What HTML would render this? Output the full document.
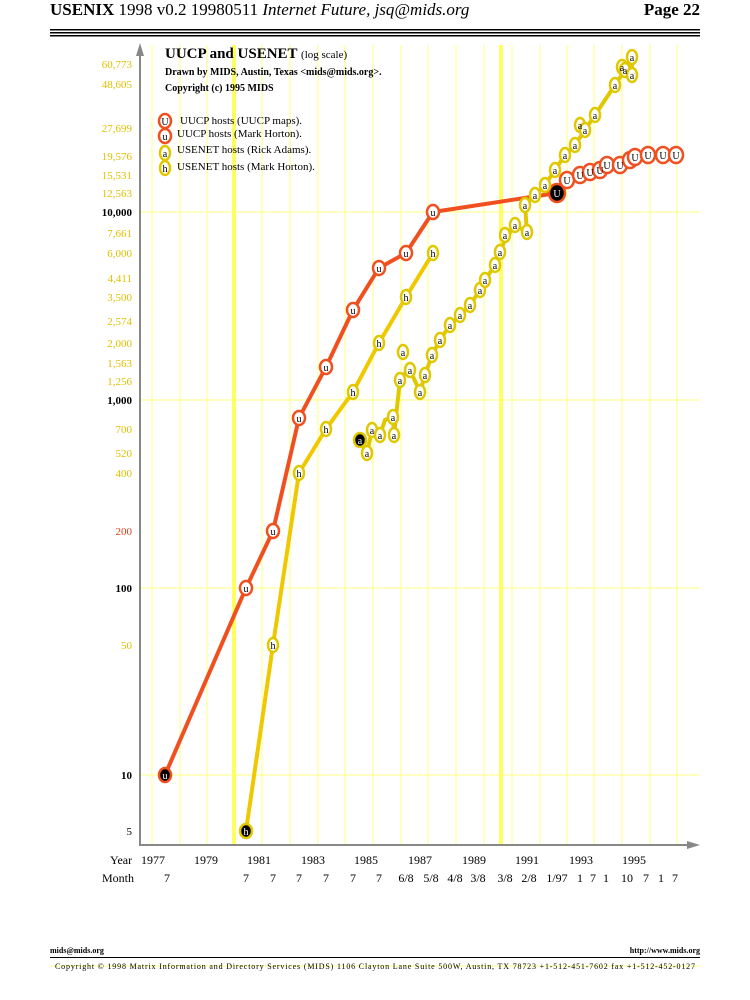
<!DOCTYPE html>
<html><head><meta charset="utf-8"><style>
body{margin:0;background:#fff;width:750px;height:1000px;overflow:hidden}
svg{display:block}
.y{fill:#e0c000;font:11px "Liberation Serif",serif;text-anchor:end}
</style></head><body>
<svg width="750" height="1000" viewBox="0 0 750 1000" xmlns="http://www.w3.org/2000/svg">
<text x="50" y="15" font-family="Liberation Serif" font-size="17"><tspan font-weight="bold">USENIX</tspan> 1998 v0.2 19980511 <tspan font-style="italic">Internet Future, jsq@mids.org</tspan></text>
<text x="700" y="15" font-family="Liberation Serif" font-size="17" font-weight="bold" text-anchor="end">Page 22</text>
<rect x="50" y="29" width="650" height="1.5" fill="#000"/><rect x="50" y="32" width="650" height="1.5" fill="#000"/><rect x="50" y="35" width="650" height="1.5" fill="#000"/>
<g stroke="#ffff80" stroke-width="1">
<line x1="152" y1="45" x2="152" y2="845"/><line x1="180" y1="45" x2="180" y2="845"/><line x1="207" y1="45" x2="207" y2="845"/><line x1="262" y1="45" x2="262" y2="845"/><line x1="290" y1="45" x2="290" y2="845"/><line x1="318" y1="45" x2="318" y2="845"/><line x1="345" y1="45" x2="345" y2="845"/><line x1="373" y1="45" x2="373" y2="845"/><line x1="401" y1="45" x2="401" y2="845"/><line x1="428" y1="45" x2="428" y2="845"/><line x1="456" y1="45" x2="456" y2="845"/><line x1="484" y1="45" x2="484" y2="845"/><line x1="512" y1="45" x2="512" y2="845"/><line x1="540" y1="45" x2="540" y2="845"/><line x1="567" y1="45" x2="567" y2="845"/><line x1="594" y1="45" x2="594" y2="845"/><line x1="622" y1="45" x2="622" y2="845"/><line x1="650" y1="45" x2="650" y2="845"/><line x1="677" y1="45" x2="677" y2="845"/>
<line x1="140" y1="212" x2="700" y2="212"/><line x1="140" y1="400" x2="700" y2="400"/><line x1="140" y1="588" x2="700" y2="588"/><line x1="140" y1="775" x2="700" y2="775"/>
</g>
<line x1="234" y1="45" x2="234" y2="845" stroke="#ffff60" stroke-width="4"/>
<line x1="501" y1="45" x2="501" y2="845" stroke="#ffff60" stroke-width="4"/>
<g stroke="#888" stroke-width="2"><line x1="140" y1="50" x2="140" y2="846"/><line x1="139" y1="845" x2="690" y2="845"/></g>
<polygon points="140,43 136,56 144,56" fill="#888"/><polygon points="700,845 687,841 687,849" fill="#888"/>
<g class="y">
<text x="132" y="68">60,773</text><text x="132" y="88">48,605</text><text x="132" y="132">27,699</text><text x="132" y="160">19,576</text><text x="132" y="179">15,531</text><text x="132" y="197">12,563</text><text x="132" y="237">7,661</text><text x="132" y="257">6,000</text><text x="132" y="282">4,411</text><text x="132" y="301">3,500</text><text x="132" y="325">2,574</text><text x="132" y="347">2,000</text><text x="132" y="367">1,563</text><text x="132" y="385">1,256</text><text x="132" y="433">700</text><text x="132" y="457">520</text><text x="132" y="477">400</text><text x="132" y="649">50</text>
<text x="132" y="535" style="fill:#e04020">200</text>
</g>
<g font-family="Liberation Serif" font-size="11" text-anchor="end" font-weight="bold">
<text x="132" y="216">10,000</text><text x="132" y="404">1,000</text><text x="132" y="592">100</text><text x="132" y="779">10</text><text x="132" y="835" font-weight="normal">5</text>
</g>
<text x="165" y="58" font-family="Liberation Serif" font-size="15" font-weight="bold">UUCP and USENET <tspan font-size="11" font-weight="normal">(log scale)</tspan></text>
<text x="165" y="75" font-family="Liberation Serif" font-size="10" font-weight="bold">Drawn by MIDS, Austin, Texas &lt;mids@mids.org&gt;.</text>
<text x="165" y="91" font-family="Liberation Serif" font-size="10" font-weight="bold">Copyright (c) 1995 MIDS</text>
<g font-family="Liberation Serif" font-size="11">
<text x="180" y="124">UUCP hosts (UUCP maps).</text><text x="177" y="137">UUCP hosts (Mark Horton).</text><text x="177" y="153">USENET hosts (Rick Adams).</text><text x="177" y="170">USENET hosts (Mark Horton).</text>
</g>
<polyline fill="none" stroke="#f05020" stroke-width="4" points="165,775 246,588 273,531 299,418 326,367 353,310 379,268 406,253 433,212 557,193"/>
<polyline fill="none" stroke="#f05020" stroke-width="3" points="557,193 567,180 580,175 590,172 600,170 607,165 620,165 630,160 635,157 648,155 663,155 676,155"/>
<polyline fill="none" stroke="#f0c800" stroke-width="4" points="246,831 273,645 299,473 326,429 353,392 379,343 406,297 433,253"/>
<polyline fill="none" stroke="#e0c800" stroke-width="4" points="360,440 367,453 372,430 380,435 385,420 393,417 394,435 400,380 403,375 410,370 420,392 425,375 432,355 440,340 450,325 460,315 470,305 480,290 485,280 495,265 500,252 505,240 515,225 527,232 525,205 535,195 545,185 555,170 565,155 575,145 585,130 595,115 615,85 625,70 632,57 632,75 622,67"/>
<g stroke-width="2.5">
<g stroke="#f05020" fill="#fff">
<ellipse cx="165" cy="121" rx="6" ry="7"/><ellipse cx="165" cy="136" rx="6" ry="7"/>
<ellipse cx="246" cy="588" rx="6" ry="7"/><ellipse cx="273" cy="531" rx="6" ry="7"/><ellipse cx="299" cy="418" rx="6" ry="7"/><ellipse cx="326" cy="367" rx="6" ry="7"/><ellipse cx="353" cy="310" rx="6" ry="7"/><ellipse cx="379" cy="268" rx="6" ry="7"/><ellipse cx="406" cy="253" rx="6" ry="7"/><ellipse cx="433" cy="212" rx="6" ry="7"/>
<ellipse cx="567" cy="180" rx="7" ry="8"/><ellipse cx="580" cy="175" rx="7" ry="8"/><ellipse cx="590" cy="172" rx="7" ry="8"/><ellipse cx="600" cy="170" rx="7" ry="8"/><ellipse cx="607" cy="165" rx="7" ry="8"/><ellipse cx="620" cy="165" rx="7" ry="8"/><ellipse cx="630" cy="160" rx="7" ry="8"/><ellipse cx="635" cy="157" rx="7" ry="8"/><ellipse cx="648" cy="155" rx="7" ry="8"/><ellipse cx="663" cy="155" rx="7" ry="8"/><ellipse cx="676" cy="155" rx="7" ry="8"/>
</g>
<g stroke="#f05020" fill="#000"><ellipse cx="165" cy="775" rx="6" ry="7"/><ellipse cx="557" cy="193" rx="8" ry="9"/></g>
<g stroke="#e0c800" fill="#fff">
<ellipse cx="165" cy="153" rx="5" ry="7"/><ellipse cx="165" cy="168" rx="5" ry="7"/>
<ellipse cx="273" cy="645" rx="5" ry="7"/><ellipse cx="299" cy="473" rx="5" ry="7"/><ellipse cx="326" cy="429" rx="5" ry="7"/><ellipse cx="353" cy="392" rx="5" ry="7"/><ellipse cx="379" cy="343" rx="5" ry="7"/><ellipse cx="406" cy="297" rx="5" ry="7"/><ellipse cx="433" cy="253" rx="5" ry="7"/>
<ellipse cx="367" cy="453" rx="5" ry="7"/><ellipse cx="372" cy="430" rx="5" ry="7"/><ellipse cx="380" cy="435" rx="5" ry="7"/><ellipse cx="393" cy="417" rx="5" ry="7"/><ellipse cx="394" cy="435" rx="5" ry="7"/><ellipse cx="400" cy="380" rx="5" ry="7"/><ellipse cx="403" cy="352" rx="5" ry="7"/><ellipse cx="410" cy="370" rx="5" ry="7"/><ellipse cx="420" cy="392" rx="5" ry="7"/><ellipse cx="425" cy="375" rx="5" ry="7"/><ellipse cx="432" cy="355" rx="5" ry="7"/><ellipse cx="440" cy="340" rx="5" ry="7"/><ellipse cx="450" cy="325" rx="5" ry="7"/><ellipse cx="460" cy="315" rx="5" ry="7"/><ellipse cx="470" cy="305" rx="5" ry="7"/><ellipse cx="480" cy="290" rx="5" ry="7"/><ellipse cx="485" cy="280" rx="5" ry="7"/><ellipse cx="495" cy="265" rx="5" ry="7"/><ellipse cx="500" cy="252" rx="5" ry="7"/><ellipse cx="505" cy="235" rx="5" ry="7"/><ellipse cx="515" cy="225" rx="5" ry="7"/><ellipse cx="527" cy="232" rx="5" ry="7"/><ellipse cx="525" cy="205" rx="5" ry="7"/><ellipse cx="535" cy="195" rx="5" ry="7"/><ellipse cx="545" cy="185" rx="5" ry="7"/><ellipse cx="555" cy="170" rx="5" ry="7"/><ellipse cx="565" cy="155" rx="5" ry="7"/><ellipse cx="575" cy="145" rx="5" ry="7"/><ellipse cx="580" cy="125" rx="5" ry="7"/><ellipse cx="585" cy="130" rx="5" ry="7"/><ellipse cx="595" cy="115" rx="5" ry="7"/><ellipse cx="615" cy="85" rx="5" ry="7"/><ellipse cx="622" cy="67" rx="5" ry="7"/><ellipse cx="625" cy="70" rx="5" ry="7"/><ellipse cx="632" cy="57" rx="5" ry="7"/><ellipse cx="632" cy="75" rx="5" ry="7"/>
</g>
<g stroke="#e0c800" fill="#000"><ellipse cx="246" cy="831" rx="6" ry="7"/><ellipse cx="360" cy="440" rx="6" ry="7"/></g>
</g>
<g font-family="Liberation Serif" font-size="10" text-anchor="middle">
<text x="165" y="125">U</text><text x="165" y="140">u</text><text x="165" y="157">a</text><text x="165" y="172">h</text>
<text x="246" y="592">u</text><text x="273" y="535">u</text><text x="299" y="422">u</text><text x="326" y="371">u</text><text x="353" y="314">u</text><text x="379" y="272">u</text><text x="406" y="257">u</text><text x="433" y="216">u</text>
<text x="567" y="184">U</text><text x="580" y="179">U</text><text x="590" y="176">U</text><text x="600" y="174">U</text><text x="607" y="169">U</text><text x="620" y="169">U</text><text x="635" y="161">U</text><text x="648" y="159">U</text><text x="663" y="159">U</text><text x="676" y="159">U</text>
<text x="273" y="649">h</text><text x="299" y="477">h</text><text x="326" y="433">h</text><text x="353" y="396">h</text><text x="379" y="347">h</text><text x="406" y="301">h</text><text x="433" y="257">h</text>
<text x="367" y="457">a</text><text x="372" y="434">a</text><text x="380" y="439">a</text><text x="393" y="421">a</text><text x="394" y="439">a</text><text x="400" y="384">a</text><text x="403" y="356">a</text><text x="410" y="374">a</text><text x="420" y="396">a</text><text x="425" y="379">a</text><text x="432" y="359">a</text><text x="440" y="344">a</text><text x="450" y="329">a</text><text x="460" y="319">a</text><text x="470" y="309">a</text><text x="480" y="294">a</text><text x="485" y="284">a</text><text x="495" y="269">a</text><text x="500" y="256">a</text><text x="505" y="239">a</text><text x="515" y="229">a</text><text x="527" y="236">a</text><text x="525" y="209">a</text><text x="535" y="199">a</text><text x="545" y="189">a</text><text x="555" y="174">a</text><text x="565" y="159">a</text><text x="575" y="149">a</text><text x="580" y="129">a</text><text x="585" y="134">a</text><text x="595" y="119">a</text><text x="615" y="89">a</text><text x="622" y="71">a</text><text x="625" y="74">a</text><text x="632" y="61">a</text><text x="632" y="79">a</text>
<g fill="#fff"><text x="165" y="779">u</text><text x="557" y="197">U</text><text x="246" y="835">h</text><text x="360" y="444">a</text></g>
</g>
<g font-family="Liberation Serif" font-size="12">
<text x="110" y="864">Year</text>
<g text-anchor="middle"><text x="153" y="864">1977</text><text x="206" y="864">1979</text><text x="259" y="864">1981</text><text x="313" y="864">1983</text><text x="366" y="864">1985</text><text x="420" y="864">1987</text><text x="474" y="864">1989</text><text x="527" y="864">1991</text><text x="581" y="864">1993</text><text x="634" y="864">1995</text></g>
<text x="102" y="882">Month</text>
<g text-anchor="middle"><text x="167" y="882">7</text><text x="246" y="882">7</text><text x="273" y="882">7</text><text x="299" y="882">7</text><text x="326" y="882">7</text><text x="353" y="882">7</text><text x="379" y="882">7</text><text x="406" y="882">6/8</text><text x="431" y="882">5/8</text><text x="455" y="882">4/8</text><text x="478" y="882">3/8</text><text x="505" y="882">3/8</text><text x="529" y="882">2/8</text><text x="557" y="882">1/97</text><text x="580" y="882">1</text><text x="593" y="882">7</text><text x="606" y="882">1</text><text x="627" y="882">10</text><text x="646" y="882">7</text><text x="661" y="882">1</text><text x="675" y="882">7</text></g>
</g>
<text x="50" y="953" font-family="Liberation Serif" font-size="8" font-weight="bold">mids@mids.org</text>
<text x="700" y="953" font-family="Liberation Serif" font-size="8" font-weight="bold" text-anchor="end">http://www.mids.org</text>
<rect x="50" y="957" width="650" height="1" fill="#000"/>
<line x1="50" y1="966" x2="700" y2="966" stroke="#ffff80"/>
<text x="375" y="969" font-family="Liberation Serif" font-size="8" text-anchor="middle" textLength="640">Copyright © 1998 Matrix Information and Directory Services (MIDS) 1106 Clayton Lane Suite 500W, Austin, TX 78723 +1-512-451-7602 fax +1-512-452-0127</text>
</svg>
</body></html>
